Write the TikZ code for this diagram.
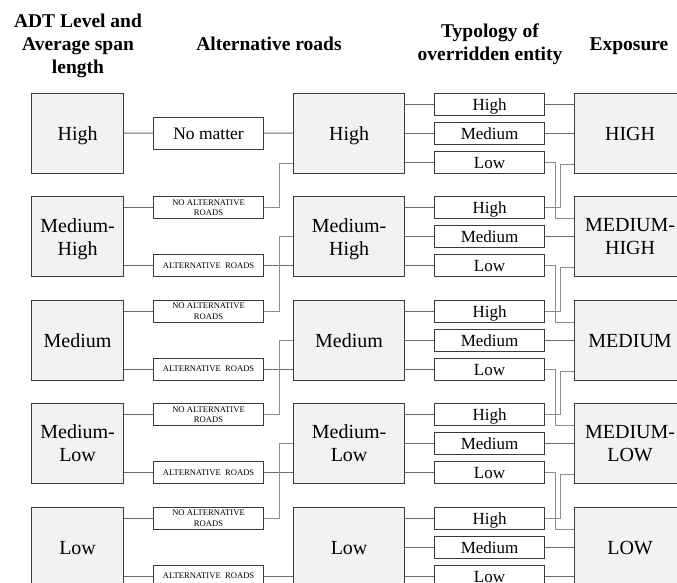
\documentclass[tikz,border=0pt]{standalone}
\usepackage{fontspec}
\setmainfont{Liberation Serif}
\definecolor{boxc}{HTML}{3A3A3A}
\definecolor{fillc}{HTML}{F2F2F2}
\definecolor{linec}{HTML}{6A6A6A}
\definecolor{elbowc}{HTML}{8C8C8C}
\tikzset{
  bigbox/.style={draw=boxc, fill=fillc, line width=1.2pt, minimum height=80pt, inner sep=0pt,
    align=center, anchor=north west, font=\fontsize{20}{23}\selectfont},
  oneline/.style={text height=14.5pt, text depth=0pt},
  altbox/.style={draw=boxc, fill=white, line width=1.1pt, minimum width=110pt, minimum height=22pt,
    inner sep=0pt, align=center, anchor=north west, font=\fontsize{8.6}{10.5}\selectfont},
  typbox/.style={draw=boxc, fill=white, line width=1.1pt, minimum width=110pt, minimum height=22pt,
    inner sep=0pt, anchor=north west, font=\fontsize{17}{20}\selectfont, text height=12.5pt, text depth=0pt},
  head/.style={inner sep=0pt, align=center, font=\fontsize{19.5}{23}\selectfont\bfseries},
  conn/.style={draw=linec, line width=1pt},
  elbow/.style={draw=elbowc, line width=1pt},
}
\begin{document}
\begin{tikzpicture}[x=1pt,y=-1pt]
\useasboundingbox (0,0) rectangle (677,582);
\clip (0,0) rectangle (677,582);
% headers
\node[head] (hA) at (78,45.5) {ADT Level and\\Average span\\length};
\node[head, anchor=base] (hB) at (269,50) {Alternative roads};
\node[head] (hC) at (490,44.5) {Typology of\\overridden entity};
\node[head, anchor=base] (hD) at (629,50) {Exposure};
% column 1
\node[bigbox, oneline, minimum width=92pt] (a1) at (31,92.5) {High};
\node[bigbox, minimum width=92pt] (a2) at (31,196) {Medium-\\\smash{High}};
\node[bigbox, oneline, minimum width=92pt] (a3) at (31,299.5) {Medium};
\node[bigbox, minimum width=92pt] (a4) at (31,403) {Medium-\\Low};
\node[bigbox, oneline, minimum width=92pt] (a5) at (31,506.5) {Low};
% column 2
\node[altbox, minimum height=32pt, font=\fontsize{17.5}{20}\selectfont, text height=13.5pt, text depth=0pt] (nm) at (153,116.5) {No matter};
\node[altbox] (na2) at (153,196) {NO ALTERNATIVE\\ROADS};
\node[altbox] (al2) at (153,254) {ALTERNATIVE\ \ ROADS};
\node[altbox] (na3) at (153,299.5) {NO ALTERNATIVE\\ROADS};
\node[altbox] (al3) at (153,357.5) {ALTERNATIVE\ \ ROADS};
\node[altbox] (na4) at (153,403) {NO ALTERNATIVE\\ROADS};
\node[altbox] (al4) at (153,461) {ALTERNATIVE\ \ ROADS};
\node[altbox] (na5) at (153,506.5) {NO ALTERNATIVE\\ROADS};
\node[altbox] (al5) at (153,564.5) {ALTERNATIVE\ \ ROADS};
% column 3
\node[bigbox, oneline, minimum width=111pt] (b1) at (293,92.5) {High};
\node[bigbox, minimum width=111pt] (b2) at (293,196) {Medium-\\\smash{High}};
\node[bigbox, oneline, minimum width=111pt] (b3) at (293,299.5) {Medium};
\node[bigbox, minimum width=111pt] (b4) at (293,403) {Medium-\\Low};
\node[bigbox, oneline, minimum width=111pt] (b5) at (293,506.5) {Low};
% column 4
\node[typbox] (h1) at (434,92.5) {High};
\node[typbox] (m1) at (434,121.5) {Medium};
\node[typbox] (l1) at (434,150.5) {Low};
\node[typbox] (h2) at (434,196) {High};
\node[typbox] (m2) at (434,225) {Medium};
\node[typbox] (l2) at (434,254) {Low};
\node[typbox] (h3) at (434,299.5) {High};
\node[typbox] (m3) at (434,328.5) {Medium};
\node[typbox] (l3) at (434,357.5) {Low};
\node[typbox] (h4) at (434,403) {High};
\node[typbox] (m4) at (434,432) {Medium};
\node[typbox] (l4) at (434,461) {Low};
\node[typbox] (h5) at (434,506.5) {High};
\node[typbox] (m5) at (434,535.5) {Medium};
\node[typbox] (l5) at (434,564.5) {Low};
% column 5
\node[bigbox, oneline, minimum width=111pt] (e1) at (574,92.5) {HIGH};
\node[bigbox, minimum width=111pt] (e2) at (574,196) {MEDIUM-\\HIGH};
\node[bigbox, oneline, minimum width=111pt] (e3) at (574,299.5) {MEDIUM};
\node[bigbox, minimum width=111pt] (e4) at (574,403) {MEDIUM-\\LOW};
\node[bigbox, oneline, minimum width=111pt] (e5) at (574,506.5) {LOW};
% col1 -> col2
\draw[conn] (a1.east) -- (nm.west);
\foreach \k in {2,...,5}{
  \draw[conn] (a\k.east |- na\k.west) -- (na\k.west);
  \draw[conn] (a\k.east |- al\k.west) -- (al\k.west);
}
% col2 -> col3
\draw[conn] (nm.east) -- (b1.west);
\foreach \k in {2,...,5}{
  \draw[conn] (al\k.east) -- (b\k.west |- al\k.east);
}
\draw[elbow] (na2.east) -- ++(15,0) |- ([yshift=-30pt]b1.west);
\draw[elbow] (na3.east) -- ++(15,0) |- (b2.west);
\draw[elbow] (na4.east) -- ++(15,0) |- (b3.west);
\draw[elbow] (na5.east) -- ++(15,0) |- (b4.west);
% col3 -> col4
\foreach \k in {1,...,5}{
  \draw[conn] (b\k.east |- h\k.west) -- (h\k.west);
  \draw[conn] (b\k.east |- m\k.west) -- (m\k.west);
  \draw[conn] (b\k.east |- l\k.west) -- (l\k.west);
}
% col4 -> col5
\draw[conn] (h1.east) -- (e1.west |- h1.east);
\foreach \k in {1,...,5}{
  \draw[conn] (m\k.east) -- (e\k.west |- m\k.east);
}
\draw[conn] (l5.east) -- (e5.west |- l5.east);
\draw[elbow] (h2.east) -- ++(15,0) |- ([yshift=-31pt]e1.west);
\draw[elbow] (h3.east) -- ++(15,0) |- ([yshift=-31pt]e2.west);
\draw[elbow] (h4.east) -- ++(15,0) |- ([yshift=-31pt]e3.west);
\draw[elbow] (h5.east) -- ++(15,0) |- ([yshift=-31pt]e4.west);
\draw[elbow] (l1.east) -- ++(10,0) |- ([yshift=18pt]e2.west);
\draw[elbow] (l2.east) -- ++(10,0) |- ([yshift=18pt]e3.west);
\draw[elbow] (l3.east) -- ++(10,0) |- ([yshift=18pt]e4.west);
\draw[elbow] (l4.east) -- ++(10,0) |- ([yshift=18pt]e5.west);
\end{tikzpicture}
\end{document}
